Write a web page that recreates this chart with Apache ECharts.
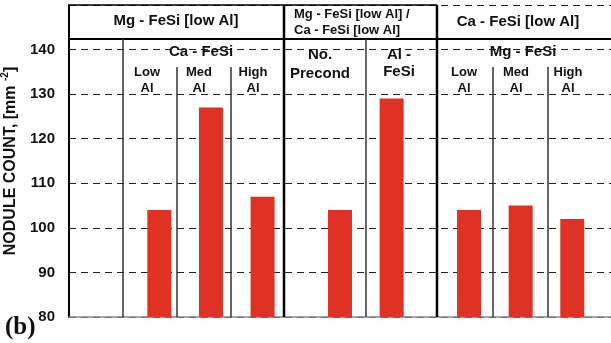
<!DOCTYPE html>
<html>
<head>
<meta charset="utf-8">
<script src="https://cdn.jsdelivr.net/npm/echarts@6/dist/echarts.min.js"></script>
<style>
  html, body { margin: 0; padding: 0; background: #fff; }
  #chart { width: 611px; height: 343px; }
</style>
</head>
<body>
<div id="chart"></div>
<script>
// x slots: empty strings are spacer slots between the bars
const slotNames = ['', '', '', 'Ca Low Al', '', 'Ca Med Al', '', 'Ca High Al', '', '',
  'No Precond', '', 'Al FeSi', '', '', 'Mg Low Al', '', 'Mg Med Al', '', 'Mg High Al', ''];
// nodule count per slot (null = no bar)
const noduleCount = [null, null, null, 104, null, 127, null, 107, null, null,
  104, null, 129, null, null, 104, null, 105, null, 102, null];

const yMin = 80, yMax = 150, yStep = 10;

const groupTitles = ['Mg - FeSi [low Al]', 'Mg - FeSi [low Al] /\nCa - FeSi [low Al]', 'Ca - FeSi [low Al]'];
const subGroupTitles = ['Ca - FeSi', 'Mg - FeSi'];
const conditionLabels = ['Low\nAl', 'Med\nAl', 'High\nAl', 'No.\nPrecond', 'Al -\nFeSi', 'Low\nAl', 'Med\nAl', 'High\nAl'];
const panelTag = '(b)';

const FONT = '"Liberation Sans", Arial, sans-serif';
const BAR_RED = '#DF3224';

const chart = echarts.init(document.getElementById('chart'), null, { renderer: 'canvas' });

// plot frame in pixels
const L = 69, T = 5, B = 317, R = 611;
const HEADER_Y = 39, SUBHEAD_Y = 67;

function vline(x, y1, w, c) {
  return { type: 'line', silent: true, z: 5,
    shape: { x1: x, y1: y1, x2: x, y2: B },
    style: { stroke: c, lineWidth: w } };
}
function hline(x1, x2, y, w, c) {
  return { type: 'line', silent: true, z: 5,
    shape: { x1: x1, y1: y, x2: x2, y2: y },
    style: { stroke: c, lineWidth: w } };
}
function label(text, x, y, size, lh, align) {
  return { type: 'text', silent: true, z: 4,
    style: { text: text, x: x, y: y, fill: '#111',
      font: 'bold ' + size + 'px ' + FONT,
      lineHeight: lh || size + 2,
      textAlign: align || 'center', textVerticalAlign: 'middle' } };
}

const graphics = [
  // header box
  hline(L, 437, T, 1.5, '#000'),
  hline(L, R, HEADER_Y, 2, '#000'),
  vline(284, T, 2.5, '#000'),
  vline(437, T, 2.5, '#000'),
  // column dividers
  vline(123, HEADER_Y, 1.5, '#333'),
  vline(366, HEADER_Y, 1.5, '#333'),
  vline(177, SUBHEAD_Y, 1.5, '#333'),
  vline(231, SUBHEAD_Y, 1.5, '#333'),
  vline(493, SUBHEAD_Y, 1.5, '#333'),
  vline(548, SUBHEAD_Y, 1.5, '#333'),
  // header titles
  label(groupTitles[0], 176, 21, 15),
  label(groupTitles[1], 294, 22, 13, 16, 'left'),
  label(groupTitles[2], 518, 22, 15),
  label(subGroupTitles[0], 201, 52, 15),
  label(subGroupTitles[1], 523, 52, 15),
  label(conditionLabels[0], 147, 80, 13, 16),
  label(conditionLabels[1], 199, 80, 13, 16),
  label(conditionLabels[2], 253, 80, 13, 16),
  label(conditionLabels[3], 320, 64, 15, 19),
  label(conditionLabels[4], 399, 63, 15, 17),
  label(conditionLabels[5], 464, 80, 13, 16),
  label(conditionLabels[6], 516, 80, 13, 16),
  label(conditionLabels[7], 568, 80, 13, 16),
  // panel tag
  { type: 'text', silent: true, z: 4,
    style: { text: panelTag, x: 5, y: 328, fill: '#111',
      font: 'bold 25px "Liberation Serif", "Times New Roman", serif',
      textAlign: 'left', textVerticalAlign: 'middle' } }
];

chart.setOption({
  animation: false,
  backgroundColor: '#fff',
  grid: { left: L, top: T, right: 611 - R, bottom: 343 - B,
    containLabel: false, outerBoundsMode: 'none' },
  xAxis: {
    type: 'category',
    data: slotNames,
    axisLine: { show: true, lineStyle: { color: '#888', width: 1.5 } },
    axisTick: { show: false },
    axisLabel: { show: false },
    splitLine: { show: false }
  },
  yAxis: {
    type: 'value',
    min: yMin, max: yMax, interval: yStep,
    axisLine: { show: true, lineStyle: { color: '#000', width: 2 } },
    axisTick: { show: false },
    axisLabel: {
      margin: 14,
      color: '#111',
      fontFamily: FONT, fontWeight: 'bold', fontSize: 15,
      formatter: v => (v >= yMax ? '' : String(v))
    },
    splitLine: { show: true, lineStyle: { color: '#222', width: 1, type: [7, 5] } },
    name: '{a|NODULE COUNT, [mm }{s|-2}{a|]}',
    nameLocation: 'middle',
    nameRotate: 90,
    nameGap: 46,
    nameTextStyle: {
      rich: {
        a: { fontFamily: FONT, fontWeight: 'bold', fontSize: 16, color: '#111', lineHeight: 19, verticalAlign: 'bottom' },
        s: { fontFamily: FONT, fontWeight: 'bold', fontSize: 10, color: '#111', lineHeight: 19, verticalAlign: 'top' }
      }
    }
  },
  series: [{
    type: 'bar',
    data: noduleCount,
    barWidth: 24,
    itemStyle: { color: BAR_RED },
    z: 3
  }],
  graphic: graphics
});
</script>
</body>
</html>
